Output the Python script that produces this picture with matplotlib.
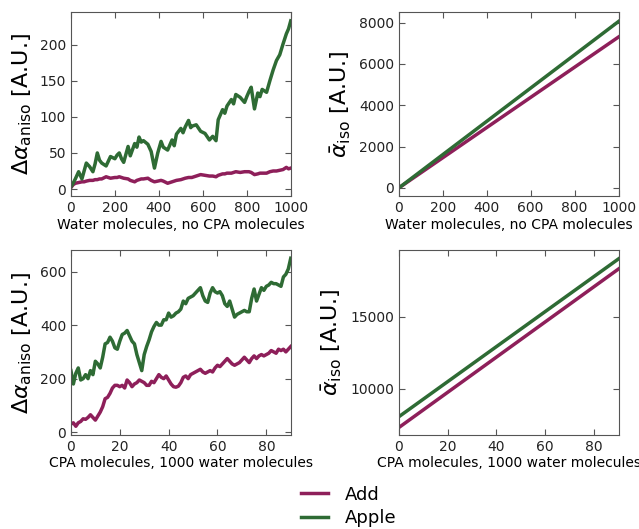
import numpy as np
import matplotlib.pyplot as plt

pink = '#8e1f5a'
green = '#2e6b34'

# top left: water molecules, no CPA
w_x = [0, 10, 20, 35, 50, 60, 70, 85, 100, 110, 120, 130, 140, 160, 180, 200, 210, 220,
       230, 240, 260, 270, 290, 300, 310, 320, 330, 350, 365, 380, 395, 410, 420, 440,
       460, 470, 480, 500, 510, 520, 535, 545, 550, 570, 590, 610, 630, 645, 660, 670,
       690, 700, 710, 730, 740, 750, 770, 790, 800, 810, 820, 835, 850, 860, 870, 890,
       905, 920, 935, 950, 965, 980, 990, 1000]
w_aniso_apple = [3, 8, 14, 24, 14, 25, 36, 31, 24, 35, 50, 40, 36, 32, 45, 42, 47, 50,
                 42, 37, 59, 46, 63, 58, 72, 65, 67, 62, 52, 29, 50, 66, 58, 54,
                 68, 60, 76, 84, 78, 86, 95, 85, 87, 89, 80, 77, 68, 73, 67, 96,
                 110, 105, 115, 124, 118, 131, 127, 120, 128, 135, 141, 111, 133, 128, 138, 134,
                 150, 165, 178, 186, 201, 215, 222, 233]
w_aniso_add = [2, 6, 8, 9, 10, 10, 11, 12, 12, 13, 13, 14, 14, 17, 15, 16, 16, 17,
               16, 15, 14, 12, 10, 12, 13, 14, 14, 15, 12, 10, 11, 12, 11, 8,
               10, 11, 12, 13, 14, 15, 16, 16, 16, 18, 20, 19, 18, 18, 17, 19,
               21, 21, 22, 22, 23, 24, 23, 24, 24, 24, 23, 20, 21, 22, 22, 22,
               24, 25, 25, 26, 27, 30, 28, 29]
w_iso_x = [0, 1000]
w_iso_add = [0, 7300]
w_iso_apple = [0, 8050]

# bottom: CPA molecules, 1000 water molecules
c_x = list(range(91))
c_aniso_apple = [230, 180, 220, 240, 195, 200, 215, 200, 230, 215, 265, 255, 240, 280,
                 330, 335, 355, 340, 315, 310, 340, 365, 370, 380, 360, 340, 330, 290,
                 260, 230, 290, 320, 345, 375, 395, 410, 400, 400, 420, 420, 445, 430,
                 435, 445, 450, 460, 490, 480, 500, 505, 510, 520, 530, 540, 510, 490,
                 485, 520, 540, 525, 520, 525, 510, 480, 470, 490, 460, 430, 440, 445,
                 450, 455, 450, 450, 500, 535, 490, 515, 540, 530, 545, 550, 560, 555,
                 555, 550, 545, 580, 590, 610, 650]
c_aniso_add = [30, 35, 22, 35, 40, 50, 48, 55, 65, 55, 45, 60, 75, 95, 125, 130, 145,
               165, 175, 175, 170, 175, 165, 195, 185, 170, 180, 185, 195, 190, 185,
               175, 175, 190, 185, 200, 215, 205, 200, 210, 195, 180, 170, 168, 172,
               185, 205, 210, 200, 215, 220, 225, 230, 235, 225, 220, 225, 230, 225,
               240, 250, 245, 255, 265, 275, 265, 255, 250, 255, 260, 270, 280, 270,
               260, 275, 285, 275, 285, 290, 285, 290, 295, 305, 300, 295, 310, 305,
               310, 300, 310, 320]
c_iso_x = [0, 90]
c_iso_add = [7300, 18300]
c_iso_apple = [8050, 19000]

plt.rcParams['font.size'] = 10
plt.rcParams['xtick.direction'] = 'in'
plt.rcParams['ytick.direction'] = 'in'
plt.rcParams['xtick.top'] = True
plt.rcParams['ytick.right'] = True

fig = plt.figure(figsize=(6.39, 5.29), dpi=100)
ax1 = fig.add_axes([0.111, 0.629, 0.344, 0.348])
ax2 = fig.add_axes([0.624, 0.629, 0.344, 0.348])
ax3 = fig.add_axes([0.111, 0.178, 0.344, 0.349])
ax4 = fig.add_axes([0.624, 0.178, 0.344, 0.349])

lw = 2.5
ax1.plot(w_x, w_aniso_add, color=pink, lw=lw, label='Add')
ax1.plot(w_x, w_aniso_apple, color=green, lw=lw, label='Apple')
ax2.plot(w_iso_x, w_iso_add, color=pink, lw=lw)
ax2.plot(w_iso_x, w_iso_apple, color=green, lw=lw)
ax3.plot(c_x, c_aniso_add, color=pink, lw=lw)
ax3.plot(c_x, c_aniso_apple, color=green, lw=lw)
ax4.plot(c_iso_x, c_iso_add, color=pink, lw=lw)
ax4.plot(c_iso_x, c_iso_apple, color=green, lw=lw)

ax1.set_xlim(0, 1000)
ax1.set_ylim(-10, 245)
ax1.set_yticks([0, 50, 100, 150, 200])
ax2.set_xlim(0, 1000)
ax2.set_ylim(-400, 8500)
ax2.set_yticks([0, 2000, 4000, 6000, 8000])
ax3.set_xlim(0, 90)
ax3.set_ylim(-10, 680)
ax3.set_yticks([0, 200, 400, 600])
ax4.set_xlim(0, 90)
ax4.set_ylim(6800, 19600)
ax4.set_yticks([10000, 15000])

for ax in (ax1, ax2):
    ax.set_xticks([0, 200, 400, 600, 800, 1000])
    ax.set_xlabel('Water molecules, no CPA molecules', labelpad=2)
for ax in (ax3, ax4):
    ax.set_xticks([0, 20, 40, 60, 80])
    ax.set_xlabel('CPA molecules, 1000 water molecules', labelpad=2)

for ax in (ax1, ax3):
    ax.set_ylabel(r'$\Delta\alpha_{\rm aniso}$ [A.U.]', fontsize=16, labelpad=4)
for ax in (ax2, ax4):
    ax.set_ylabel(r'$\bar{\alpha}_{\rm iso}$ [A.U.]', fontsize=16, labelpad=4)

for ax in (ax1, ax2, ax3, ax4):
    for s in ax.spines.values():
        s.set_color('#555555')
    ax.tick_params(colors='#555555', labelcolor='#222222', length=4)

h, l = ax1.get_legend_handles_labels()
fig.legend(h, l, loc='center', bbox_to_anchor=(0.546, 0.043), frameon=False,
           fontsize=13, handlelength=1.5, handletextpad=0.9, labelspacing=0.3)

fig.savefig('out.png', dpi=100)
